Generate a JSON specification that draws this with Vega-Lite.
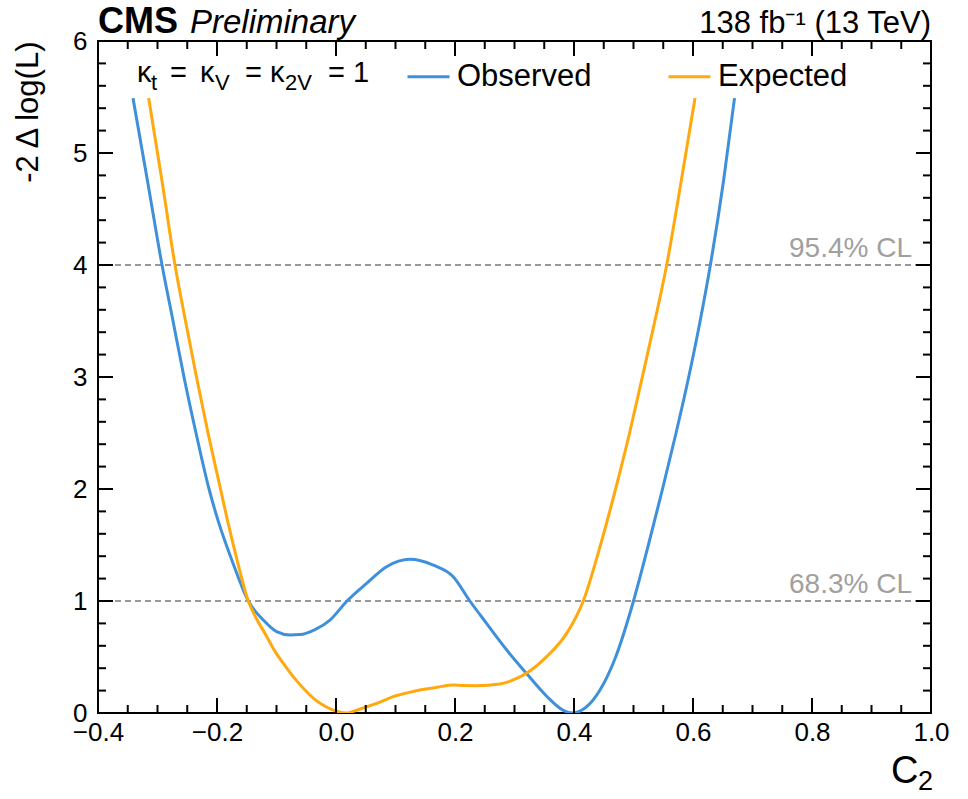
{
  "$schema": "https://vega.github.io/schema/vega-lite/v6.json",
  "width": 833,
  "height": 672,
  "autosize": {"type": "none"},
  "padding": {"left": 98, "top": 41, "right": 37, "bottom": 86},
  "background": "white",
  "config": {
    "font": "Liberation Sans",
    "view": {"stroke": "black", "strokeWidth": 2},
    "axis": {
      "grid": false,
      "domain": false,
      "labelColor": "black",
      "titleColor": "black",
      "labelOverlap": false,
      "labelFlush": false
    }
  },
  "datasets": {
    "scan": [
      {"C2": -0.3412, "dnll": 5.49, "series": "Observed"},
      {"C2": -0.3168, "dnll": 4.75, "series": "Observed"},
      {"C2": -0.2924, "dnll": 4.0, "series": "Observed"},
      {"C2": -0.2739, "dnll": 3.5, "series": "Observed"},
      {"C2": -0.2555, "dnll": 3.0, "series": "Observed"},
      {"C2": -0.2353, "dnll": 2.5, "series": "Observed"},
      {"C2": -0.2134, "dnll": 2.0, "series": "Observed"},
      {"C2": -0.1983, "dnll": 1.72, "series": "Observed"},
      {"C2": -0.1731, "dnll": 1.337, "series": "Observed"},
      {"C2": -0.1474, "dnll": 1.0, "series": "Observed"},
      {"C2": -0.1222, "dnll": 0.83, "series": "Observed"},
      {"C2": -0.0997, "dnll": 0.726, "series": "Observed"},
      {"C2": -0.0773, "dnll": 0.696, "series": "Observed"},
      {"C2": -0.0605, "dnll": 0.7, "series": "Observed"},
      {"C2": -0.0353, "dnll": 0.745, "series": "Observed"},
      {"C2": -0.0101, "dnll": 0.83, "series": "Observed"},
      {"C2": 0.0185, "dnll": 1.0, "series": "Observed"},
      {"C2": 0.0515, "dnll": 1.158, "series": "Observed"},
      {"C2": 0.085, "dnll": 1.306, "series": "Observed"},
      {"C2": 0.124, "dnll": 1.372, "series": "Observed"},
      {"C2": 0.1636, "dnll": 1.32, "series": "Observed"},
      {"C2": 0.197, "dnll": 1.217, "series": "Observed"},
      {"C2": 0.225, "dnll": 1.0, "series": "Observed"},
      {"C2": 0.253, "dnll": 0.8, "series": "Observed"},
      {"C2": 0.287, "dnll": 0.5625, "series": "Observed"},
      {"C2": 0.32, "dnll": 0.354, "series": "Observed"},
      {"C2": 0.354, "dnll": 0.15, "series": "Observed"},
      {"C2": 0.382, "dnll": 0.024, "series": "Observed"},
      {"C2": 0.397, "dnll": 0.0, "series": "Observed"},
      {"C2": 0.41, "dnll": 0.016, "series": "Observed"},
      {"C2": 0.4213, "dnll": 0.056, "series": "Observed"},
      {"C2": 0.4437, "dnll": 0.205, "series": "Observed"},
      {"C2": 0.47, "dnll": 0.5, "series": "Observed"},
      {"C2": 0.5, "dnll": 1.0, "series": "Observed"},
      {"C2": 0.525, "dnll": 1.5, "series": "Observed"},
      {"C2": 0.5488, "dnll": 2.0, "series": "Observed"},
      {"C2": 0.5715, "dnll": 2.5, "series": "Observed"},
      {"C2": 0.5928, "dnll": 3.0, "series": "Observed"},
      {"C2": 0.612, "dnll": 3.5, "series": "Observed"},
      {"C2": 0.6292, "dnll": 4.0, "series": "Observed"},
      {"C2": 0.6513, "dnll": 4.75, "series": "Observed"},
      {"C2": 0.6698, "dnll": 5.49, "series": "Observed"},
      {"C2": -0.3148, "dnll": 5.49, "series": "Expected"},
      {"C2": -0.2924, "dnll": 4.75, "series": "Expected"},
      {"C2": -0.2706, "dnll": 4.0, "series": "Expected"},
      {"C2": -0.2529, "dnll": 3.5, "series": "Expected"},
      {"C2": -0.2345, "dnll": 3.0, "series": "Expected"},
      {"C2": -0.2151, "dnll": 2.5, "series": "Expected"},
      {"C2": -0.1941, "dnll": 2.0, "series": "Expected"},
      {"C2": -0.1824, "dnll": 1.72, "series": "Expected"},
      {"C2": -0.1655, "dnll": 1.35, "series": "Expected"},
      {"C2": -0.1474, "dnll": 1.0, "series": "Expected"},
      {"C2": -0.1345, "dnll": 0.85, "series": "Expected"},
      {"C2": -0.1193, "dnll": 0.71, "series": "Expected"},
      {"C2": -0.1025, "dnll": 0.55, "series": "Expected"},
      {"C2": -0.084, "dnll": 0.41, "series": "Expected"},
      {"C2": -0.0681, "dnll": 0.3, "series": "Expected"},
      {"C2": -0.0521, "dnll": 0.205, "series": "Expected"},
      {"C2": -0.0353, "dnll": 0.12, "series": "Expected"},
      {"C2": -0.0168, "dnll": 0.056, "series": "Expected"},
      {"C2": -0.0008, "dnll": 0.018, "series": "Expected"},
      {"C2": 0.016, "dnll": 0.0, "series": "Expected"},
      {"C2": 0.035, "dnll": 0.025, "series": "Expected"},
      {"C2": 0.0515, "dnll": 0.056, "series": "Expected"},
      {"C2": 0.075, "dnll": 0.1, "series": "Expected"},
      {"C2": 0.096, "dnll": 0.146, "series": "Expected"},
      {"C2": 0.12, "dnll": 0.18, "series": "Expected"},
      {"C2": 0.141, "dnll": 0.205, "series": "Expected"},
      {"C2": 0.17, "dnll": 0.23, "series": "Expected"},
      {"C2": 0.197, "dnll": 0.25, "series": "Expected"},
      {"C2": 0.215, "dnll": 0.245, "series": "Expected"},
      {"C2": 0.236, "dnll": 0.244, "series": "Expected"},
      {"C2": 0.2756, "dnll": 0.259, "series": "Expected"},
      {"C2": 0.298, "dnll": 0.295, "series": "Expected"},
      {"C2": 0.32, "dnll": 0.354, "series": "Expected"},
      {"C2": 0.354, "dnll": 0.503, "series": "Expected"},
      {"C2": 0.3877, "dnll": 0.711, "series": "Expected"},
      {"C2": 0.4156, "dnll": 1.0, "series": "Expected"},
      {"C2": 0.4437, "dnll": 1.485, "series": "Expected"},
      {"C2": 0.4699, "dnll": 2.0, "series": "Expected"},
      {"C2": 0.4934, "dnll": 2.5, "series": "Expected"},
      {"C2": 0.5148, "dnll": 3.0, "series": "Expected"},
      {"C2": 0.5338, "dnll": 3.45, "series": "Expected"},
      {"C2": 0.5558, "dnll": 4.0, "series": "Expected"},
      {"C2": 0.5802, "dnll": 4.75, "series": "Expected"},
      {"C2": 0.6034, "dnll": 5.49, "series": "Expected"}
    ],
    "levels": [
      {"level": 1, "label": "68.3% CL"},
      {"level": 4, "label": "95.4% CL"}
    ],
    "xMajor": [
      {"at": -0.4}, {"at": -0.2}, {"at": 0}, {"at": 0.2}, {"at": 0.4}, {"at": 0.6}, {"at": 0.8}, {"at": 1.0}
    ],
    "xMinor": [
      {"at": -0.35}, {"at": -0.3}, {"at": -0.25}, {"at": -0.15}, {"at": -0.1}, {"at": -0.05},
      {"at": 0.05}, {"at": 0.1}, {"at": 0.15}, {"at": 0.25}, {"at": 0.3}, {"at": 0.35},
      {"at": 0.45}, {"at": 0.5}, {"at": 0.55}, {"at": 0.65}, {"at": 0.7}, {"at": 0.75},
      {"at": 0.85}, {"at": 0.9}, {"at": 0.95}
    ],
    "yMajor": [
      {"at": 0}, {"at": 1}, {"at": 2}, {"at": 3}, {"at": 4}, {"at": 5}, {"at": 6}
    ],
    "yMinor": [
      {"at": 0.2}, {"at": 0.4}, {"at": 0.6}, {"at": 0.8},
      {"at": 1.2}, {"at": 1.4}, {"at": 1.6}, {"at": 1.8},
      {"at": 2.2}, {"at": 2.4}, {"at": 2.6}, {"at": 2.8},
      {"at": 3.2}, {"at": 3.4}, {"at": 3.6}, {"at": 3.8},
      {"at": 4.2}, {"at": 4.4}, {"at": 4.6}, {"at": 4.8},
      {"at": 5.2}, {"at": 5.4}, {"at": 5.6}, {"at": 5.8}
    ]
  },
  "resolve": {"axis": {"x": "independent", "y": "independent"}},
  "layer": [
    {
      "data": {"name": "levels"},
      "mark": {"type": "rule", "color": "#999999", "strokeWidth": 2, "strokeDash": [6, 4]},
      "encoding": {
        "y": {"field": "level", "type": "quantitative", "axis": null}
      }
    },
    {
      "data": {"name": "levels"},
      "mark": {"type": "text", "align": "right", "baseline": "alphabetic", "dy": -8, "fontSize": 28, "color": "#a0a0a0"},
      "encoding": {
        "x": {"datum": 0.968, "type": "quantitative", "axis": null},
        "y": {"field": "level", "type": "quantitative", "axis": null},
        "text": {"field": "label"}
      }
    },
    {
      "data": {"name": "scan"},
      "mark": {"type": "line", "interpolate": "monotone", "strokeWidth": 3, "clip": true},
      "encoding": {
        "x": {
          "field": "C2",
          "type": "quantitative",
          "scale": {"domain": [-0.4, 1.0], "nice": false, "zero": false},
          "axis": {
            "orient": "bottom",
            "values": [-0.4, -0.2, 0, 0.2, 0.4, 0.6, 0.8, 1.0],
            "ticks": false,
            "tickSize": 0,
            "format": ".1f",
            "labelFontSize": 26,
            "labelPadding": 6,
            "title": "C",
            "titleFontSize": 38,
            "titleFontWeight": "normal",
            "titleAnchor": "end",
            "titleAlign": "right",
            "titleBaseline": "alphabetic",
            "titleX": 820,
            "titleY": 69
          }
        },
        "y": {
          "field": "dnll",
          "type": "quantitative",
          "scale": {"domain": [0, 6], "nice": false, "zero": false},
          "axis": {
            "orient": "left",
            "values": [0, 1, 2, 3, 4, 5, 6],
            "ticks": false,
            "tickSize": 0,
            "format": "d",
            "labelFontSize": 26,
            "labelPadding": 11,
            "title": "-2 Δ log(L)",
            "titleFontSize": 31,
            "titleFontWeight": "normal",
            "titleAngle": -90,
            "titleAnchor": "end",
            "titleAlign": "right",
            "titleBaseline": "alphabetic",
            "titleX": -61,
            "titleY": 0
          }
        },
        "color": {
          "field": "series",
          "type": "nominal",
          "scale": {"domain": ["Observed", "Expected"], "range": ["#3f90da", "#ffa90e"]},
          "legend": {
            "orient": "none",
            "legendX": 308,
            "legendY": 13,
            "direction": "horizontal",
            "title": null,
            "symbolType": "stroke",
            "symbolSize": 1764,
            "symbolStrokeWidth": 3,
            "labelFontSize": 31,
            "labelColor": "black",
            "labelOffset": 6,
            "labelLimit": 0,
            "columnPadding": 70
          }
        }
      }
    },
    {
      "data": {"name": "xMinor"},
      "mark": {"type": "tick", "orient": "vertical", "size": 16, "thickness": 2, "color": "black", "opacity": 1, "clip": true},
      "encoding": {
        "x": {"field": "at", "type": "quantitative", "axis": null},
        "y": {"datum": 0, "type": "quantitative", "axis": null}
      }
    },
    {
      "data": {"name": "xMinor"},
      "mark": {"type": "tick", "orient": "vertical", "size": 16, "thickness": 2, "color": "black", "opacity": 1, "clip": true},
      "encoding": {
        "x": {"field": "at", "type": "quantitative", "axis": null},
        "y": {"datum": 6, "type": "quantitative", "axis": null}
      }
    },
    {
      "data": {"name": "xMajor"},
      "mark": {"type": "tick", "orient": "vertical", "size": 30, "thickness": 2, "color": "black", "opacity": 1, "clip": true},
      "encoding": {
        "x": {"field": "at", "type": "quantitative", "axis": null},
        "y": {"datum": 0, "type": "quantitative", "axis": null}
      }
    },
    {
      "data": {"name": "xMajor"},
      "mark": {"type": "tick", "orient": "vertical", "size": 30, "thickness": 2, "color": "black", "opacity": 1, "clip": true},
      "encoding": {
        "x": {"field": "at", "type": "quantitative", "axis": null},
        "y": {"datum": 6, "type": "quantitative", "axis": null}
      }
    },
    {
      "data": {"name": "yMinor"},
      "mark": {"type": "tick", "orient": "horizontal", "size": 16, "thickness": 2, "color": "black", "opacity": 1, "clip": true},
      "encoding": {
        "x": {"datum": -0.4, "type": "quantitative", "axis": null},
        "y": {"field": "at", "type": "quantitative", "axis": null}
      }
    },
    {
      "data": {"name": "yMinor"},
      "mark": {"type": "tick", "orient": "horizontal", "size": 16, "thickness": 2, "color": "black", "opacity": 1, "clip": true},
      "encoding": {
        "x": {"datum": 1.0, "type": "quantitative", "axis": null},
        "y": {"field": "at", "type": "quantitative", "axis": null}
      }
    },
    {
      "data": {"name": "yMajor"},
      "mark": {"type": "tick", "orient": "horizontal", "size": 30, "thickness": 2, "color": "black", "opacity": 1, "clip": true},
      "encoding": {
        "x": {"datum": -0.4, "type": "quantitative", "axis": null},
        "y": {"field": "at", "type": "quantitative", "axis": null}
      }
    },
    {
      "data": {"name": "yMajor"},
      "mark": {"type": "tick", "orient": "horizontal", "size": 30, "thickness": 2, "color": "black", "opacity": 1, "clip": true},
      "encoding": {
        "x": {"datum": 1.0, "type": "quantitative", "axis": null},
        "y": {"field": "at", "type": "quantitative", "axis": null}
      }
    },
    {
      "data": {"values": [{"c": -0.4, "v": 6.071, "txt": "CMS"}]},
      "mark": {"type": "text", "align": "left", "baseline": "alphabetic", "fontSize": 36, "fontWeight": "bold", "color": "black"},
      "encoding": {
        "x": {"field": "c", "type": "quantitative", "axis": null},
        "y": {"field": "v", "type": "quantitative", "axis": null},
        "text": {"field": "txt"}
      }
    },
    {
      "data": {"values": [{"c": -0.2454, "v": 6.071, "txt": "Preliminary"}]},
      "mark": {"type": "text", "align": "left", "baseline": "alphabetic", "fontSize": 33, "fontStyle": "italic", "color": "black"},
      "encoding": {
        "x": {"field": "c", "type": "quantitative", "axis": null},
        "y": {"field": "v", "type": "quantitative", "axis": null},
        "text": {"field": "txt"}
      }
    },
    {
      "data": {"values": [{"c": 1.0, "v": 6.071, "txt": "138 fb⁻¹ (13 TeV)"}]},
      "mark": {"type": "text", "align": "right", "baseline": "alphabetic", "fontSize": 31, "color": "black"},
      "encoding": {
        "x": {"field": "c", "type": "quantitative", "axis": null},
        "y": {"field": "v", "type": "quantitative", "axis": null},
        "text": {"field": "txt"}
      }
    },
    {
      "data": {"values": [{"c": 0.978, "v": -0.6875, "txt": "2"}]},
      "mark": {"type": "text", "align": "left", "baseline": "alphabetic", "fontSize": 27, "color": "black"},
      "encoding": {
        "x": {"field": "c", "type": "quantitative", "axis": null},
        "y": {"field": "v", "type": "quantitative", "axis": null},
        "text": {"field": "txt"}
      }
    },
    {
      "data": {"values": [
        {"c": -0.3345, "v": 5.634, "txt": "κ"},
        {"c": -0.279, "v": 5.634, "txt": "="},
        {"c": -0.2286, "v": 5.634, "txt": "κ"},
        {"c": -0.153, "v": 5.634, "txt": "="},
        {"c": -0.111, "v": 5.634, "txt": "κ"},
        {"c": -0.0134, "v": 5.634, "txt": "="},
        {"c": 0.0286, "v": 5.634, "txt": "1"}
      ]},
      "mark": {"type": "text", "align": "left", "baseline": "alphabetic", "fontSize": 29, "color": "black"},
      "encoding": {
        "x": {"field": "c", "type": "quantitative", "axis": null},
        "y": {"field": "v", "type": "quantitative", "axis": null},
        "text": {"field": "txt"}
      }
    },
    {
      "data": {"values": [
        {"c": -0.3109, "v": 5.5625, "txt": "t"},
        {"c": -0.2034, "v": 5.5625, "txt": "V"},
        {"c": -0.0857, "v": 5.5625, "txt": "2V"}
      ]},
      "mark": {"type": "text", "align": "left", "baseline": "alphabetic", "fontSize": 22, "color": "black"},
      "encoding": {
        "x": {"field": "c", "type": "quantitative", "axis": null},
        "y": {"field": "v", "type": "quantitative", "axis": null},
        "text": {"field": "txt"}
      }
    }
  ]
}
